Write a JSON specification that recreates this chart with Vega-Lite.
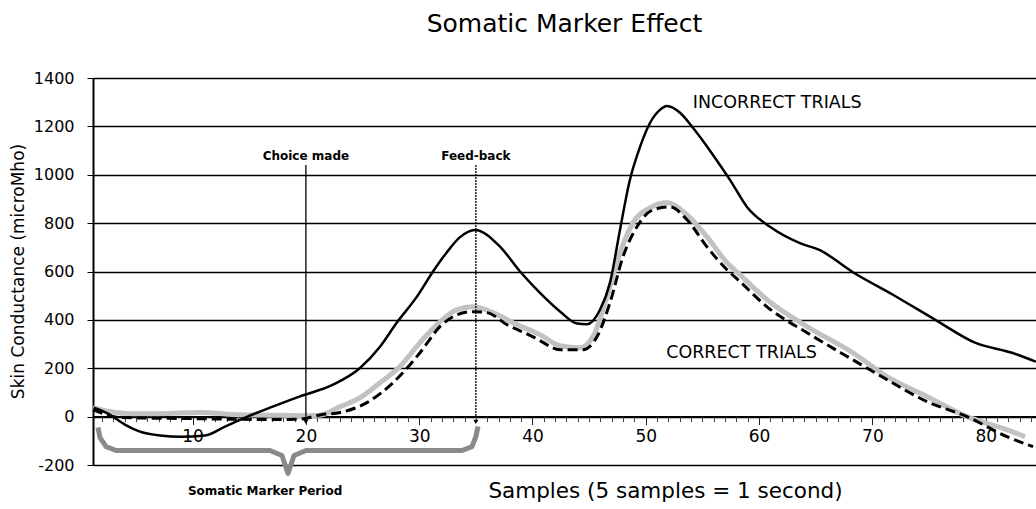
{
  "$schema": "https://vega.github.io/schema/vega-lite/v6.json",
  "width": 943,
  "height": 387,
  "autosize": {"type": "none"},
  "padding": {"left": 93, "top": 78, "right": 0, "bottom": 44},
  "background": "white",
  "title": {"text": "Somatic Marker Effect", "font": "DejaVu Sans", "fontSize": 25, "fontWeight": "normal", "anchor": "middle", "frame": "group", "offset": 33, "color": "black"},
  "config": {
    "view": {"stroke": null},
    "font": "DejaVu Sans",
    "axis": {"labelFont": "DejaVu Sans", "titleFont": "DejaVu Sans", "labelColor": "black", "titleColor": "black", "titleFontWeight": "normal"}
  },
  "resolve": {"axis": {"x": "independent"}},
  "datasets": {
    "incorrect": [
      {"sample": 1.3, "value": 37}, {"sample": 2.53, "value": 12}, {"sample": 4.03, "value": -33},
      {"sample": 5.36, "value": -62}, {"sample": 7.12, "value": -78}, {"sample": 8.98, "value": -83},
      {"sample": 11.09, "value": -78}, {"sample": 12.86, "value": -41}, {"sample": 14.63, "value": -4},
      {"sample": 16.83, "value": 37}, {"sample": 19.48, "value": 84}, {"sample": 22.4, "value": 132},
      {"sample": 24.78, "value": 201}, {"sample": 26.54, "value": 289}, {"sample": 28.0, "value": 387},
      {"sample": 29.8, "value": 496}, {"sample": 31.22, "value": 600}, {"sample": 32.45, "value": 680},
      {"sample": 33.6, "value": 742}, {"sample": 34.92, "value": 772}, {"sample": 37.13, "value": 703},
      {"sample": 38.9, "value": 600}, {"sample": 40.66, "value": 512},
      {"sample": 42.43, "value": 435}, {"sample": 43.93, "value": 385}, {"sample": 44.81, "value": 382},
      {"sample": 45.96, "value": 442}, {"sample": 46.84, "value": 553}, {"sample": 47.72, "value": 772},
      {"sample": 48.6, "value": 979}, {"sample": 49.49, "value": 1115}, {"sample": 50.37, "value": 1214},
      {"sample": 51.25, "value": 1268}, {"sample": 51.87, "value": 1284}, {"sample": 53.02, "value": 1256},
      {"sample": 54.16, "value": 1194}, {"sample": 55.93, "value": 1082}, {"sample": 57.43, "value": 979},
      {"sample": 58.93, "value": 867}, {"sample": 60.96, "value": 785}, {"sample": 63.61, "value": 717},
      {"sample": 65.37, "value": 688}, {"sample": 68.28, "value": 597}, {"sample": 71.81, "value": 504},
      {"sample": 75.7, "value": 396}, {"sample": 79.05, "value": 306}, {"sample": 82.32, "value": 264},
      {"sample": 84.44, "value": 227}
    ],
    "correctGray": [
      {"sample": 1.21, "value": 37}, {"sample": 2.71, "value": 21}, {"sample": 4.47, "value": 12},
      {"sample": 7.12, "value": 12}, {"sample": 10.65, "value": 17}, {"sample": 14.18, "value": 8},
      {"sample": 16.83, "value": 6}, {"sample": 20.01, "value": 4}, {"sample": 21.24, "value": 6},
      {"sample": 23.01, "value": 41}, {"sample": 24.78, "value": 78}, {"sample": 26.54, "value": 140},
      {"sample": 28.3, "value": 207}, {"sample": 30.07, "value": 306}, {"sample": 31.83, "value": 392},
      {"sample": 33.34, "value": 442}, {"sample": 34.75, "value": 454}, {"sample": 36.51, "value": 430},
      {"sample": 38.27, "value": 388}, {"sample": 40.66, "value": 339}, {"sample": 42.43, "value": 293},
      {"sample": 44.19, "value": 285}, {"sample": 45.33, "value": 330}, {"sample": 46.57, "value": 496},
      {"sample": 47.72, "value": 677}, {"sample": 48.87, "value": 801}, {"sample": 50.37, "value": 863},
      {"sample": 51.87, "value": 884}, {"sample": 53.64, "value": 834}, {"sample": 55.4, "value": 743},
      {"sample": 57.17, "value": 636}, {"sample": 58.32, "value": 586}, {"sample": 60.7, "value": 483},
      {"sample": 64.23, "value": 372}, {"sample": 68.28, "value": 264}, {"sample": 71.29, "value": 165},
      {"sample": 74.82, "value": 83}, {"sample": 78.35, "value": 0}, {"sample": 81.88, "value": -54},
      {"sample": 83.47, "value": -83}
    ],
    "correctDashed": [
      {"sample": 1.21, "value": 29}, {"sample": 3.68, "value": -4}, {"sample": 9.6, "value": -8},
      {"sample": 16.92, "value": -12}, {"sample": 19.57, "value": -10}, {"sample": 21.33, "value": 8},
      {"sample": 23.01, "value": 17}, {"sample": 25.39, "value": 58}, {"sample": 27.69, "value": 140},
      {"sample": 30.07, "value": 264}, {"sample": 31.83, "value": 372}, {"sample": 33.34, "value": 421},
      {"sample": 34.75, "value": 434}, {"sample": 35.98, "value": 430}, {"sample": 37.75, "value": 380},
      {"sample": 40.05, "value": 330}, {"sample": 40.66, "value": 314}, {"sample": 42.43, "value": 277},
      {"sample": 44.44, "value": 277}, {"sample": 45.69, "value": 330}, {"sample": 46.84, "value": 471},
      {"sample": 47.99, "value": 661}, {"sample": 49.22, "value": 785}, {"sample": 50.64, "value": 855},
      {"sample": 52.13, "value": 867}, {"sample": 53.64, "value": 814}, {"sample": 55.4, "value": 702},
      {"sample": 57.17, "value": 607}, {"sample": 58.32, "value": 558}, {"sample": 60.7, "value": 454},
      {"sample": 64.23, "value": 347}, {"sample": 68.28, "value": 235}, {"sample": 71.29, "value": 153},
      {"sample": 74.82, "value": 62}, {"sample": 78.35, "value": 0}, {"sample": 81.88, "value": -83},
      {"sample": 84.18, "value": -124}
    ],
    "brace": [
      {"sample": 1.65, "value": -45}, {"sample": 1.83, "value": -87}, {"sample": 2.36, "value": -124},
      {"sample": 3.24, "value": -140}, {"sample": 16.83, "value": -140}, {"sample": 17.89, "value": -161},
      {"sample": 18.42, "value": -235}, {"sample": 18.95, "value": -161}, {"sample": 20.01, "value": -140},
      {"sample": 33.78, "value": -140}, {"sample": 34.66, "value": -124}, {"sample": 35.0, "value": -83},
      {"sample": 35.19, "value": -41}
    ],
    "events": [
      {"sample": 20, "top": 1040, "bottom": 0, "label": "Choice made", "labelY": 1078, "arrowY": -22, "dash": "solid"},
      {"sample": 35, "top": 1040, "bottom": 0, "label": "Feed-back", "labelY": 1078, "arrowY": -22, "dash": "dotted"}
    ],
    "seriesLabels": [
      {"sample": 61.6, "value": 1296, "text": "INCORRECT TRIALS"},
      {"sample": 58.45, "value": 264, "text": "CORRECT TRIALS"}
    ],
    "periodLabel": [
      {"sample": 16.4, "value": -309, "text": "Somatic Marker Period"}
    ]
  },
  "layer": [
    {
      "data": {"name": "correctGray"},
      "mark": {"type": "line", "color": "#c2c2c2", "strokeWidth": 5, "interpolate": "monotone"},
      "encoding": {
        "x": {
          "field": "sample", "type": "quantitative",
          "scale": {"domain": [1.21, 84.44], "nice": false, "zero": false},
          "axis": {
            "orient": "bottom",
            "offset": -48.4,
            "values": [10, 20, 30, 40, 50, 60, 70, 80],
            "labelExpr": "'' + datum.value",
            "labelOverlap": false,
            "labelFlush": false,
            "labelFontSize": 17,
            "labelPadding": 4,
            "ticks": true,
            "tickColor": "#222222",
            "tickSize": 8,
            "tickWidth": 1,
            "tickOpacity": 1,
            "domainColor": "black",
            "domainWidth": 2,
            "grid": false,
            "title": "Samples (5 samples = 1 second)",
            "titleFontSize": 21.5,
            "titleX": 572,
            "titleY": 81,
            "titleAlign": "center",
            "titleBaseline": "alphabetic"
          }
        },
        "y": {
          "field": "value", "type": "quantitative",
          "scale": {"domain": [-200, 1400], "nice": false, "zero": false},
          "axis": {
            "values": [-200, 0, 200, 400, 600, 800, 1000, 1200, 1400],
            "labelExpr": "'' + datum.value",
            "labelFontSize": 16,
            "labelPadding": 13,
            "tickColor": "black",
            "tickSize": 6,
            "tickWidth": 1,
            "domainColor": "black",
            "domainWidth": 2,
            "grid": true,
            "gridColor": "black",
            "gridWidth": 1.3,
            "gridOpacity": 1,
            "title": "Skin Conductance (microMho)",
            "titleFontSize": 17,
            "titleX": -75,
            "titleY": 193,
            "titleAngle": -90,
            "titleAlign": "center",
            "titleBaseline": "middle"
          }
        }
      }
    },
    {
      "data": {"name": "correctDashed"},
      "mark": {"type": "line", "color": "black", "strokeWidth": 3, "strokeDash": [10, 5], "interpolate": "monotone"},
      "encoding": {
        "x": {
          "field": "sample", "type": "quantitative",
          "axis": {
            "orient": "bottom",
            "offset": -48.4,
            "values": [2,3,4,5,6,7,8,9,11,12,13,14,15,16,17,18,19,21,22,23,24,25,26,27,28,29,31,32,33,34,35,36,37,38,39,41,42,43,44,45,46,47,48,49,51,52,53,54,55,56,57,58,59,61,62,63,64,65,66,67,68,69,71,72,73,74,75,76,77,78,79,81,82,83,84],
            "labels": false,
            "domain": false,
            "grid": false,
            "ticks": true,
            "tickColor": "#444444",
            "tickSize": 5,
            "tickWidth": 1,
            "tickOpacity": 1,
            "title": null
          }
        },
        "y": {"field": "value", "type": "quantitative"}
      }
    },
    {
      "data": {"name": "incorrect"},
      "mark": {"type": "line", "color": "black", "strokeWidth": 2.5, "interpolate": "monotone"},
      "encoding": {
        "x": {"field": "sample", "type": "quantitative", "axis": null},
        "y": {"field": "value", "type": "quantitative"}
      }
    },
    {
      "data": {"name": "brace"},
      "mark": {"type": "line", "color": "#8a8a8a", "strokeWidth": 5, "interpolate": "linear", "strokeJoin": "round"},
      "encoding": {
        "x": {"field": "sample", "type": "quantitative", "axis": null},
        "y": {"field": "value", "type": "quantitative"}
      }
    },
    {
      "data": {"name": "events"},
      "mark": {"type": "rule", "color": "black", "strokeWidth": 1.3},
      "encoding": {
        "x": {"field": "sample", "type": "quantitative", "axis": null},
        "y": {"field": "top", "type": "quantitative"},
        "y2": {"field": "bottom"},
        "strokeDash": {"field": "dash", "type": "nominal", "scale": {"domain": ["solid", "dotted"], "range": [[1, 0], [2, 1]]}, "legend": null}
      }
    },
    {
      "data": {"name": "events"},
      "mark": {"type": "point", "shape": "triangle-down", "filled": true, "color": "black", "size": 25, "opacity": 1},
      "encoding": {
        "x": {"field": "sample", "type": "quantitative", "axis": null},
        "y": {"field": "arrowY", "type": "quantitative"}
      }
    },
    {
      "data": {"name": "events"},
      "mark": {"type": "text", "font": "DejaVu Sans", "fontWeight": "bold", "fontSize": 12, "color": "black", "align": "center", "baseline": "middle"},
      "encoding": {
        "x": {"field": "sample", "type": "quantitative", "axis": null},
        "y": {"field": "labelY", "type": "quantitative"},
        "text": {"field": "label"}
      }
    },
    {
      "data": {"name": "seriesLabels"},
      "mark": {"type": "text", "font": "DejaVu Sans", "fontSize": 17.5, "color": "black", "align": "center", "baseline": "middle"},
      "encoding": {
        "x": {"field": "sample", "type": "quantitative", "axis": null},
        "y": {"field": "value", "type": "quantitative"},
        "text": {"field": "text"}
      }
    },
    {
      "data": {"name": "periodLabel"},
      "mark": {"type": "text", "font": "DejaVu Sans", "fontWeight": "bold", "fontSize": 12, "color": "black", "align": "center", "baseline": "middle"},
      "encoding": {
        "x": {"field": "sample", "type": "quantitative", "axis": null},
        "y": {"field": "value", "type": "quantitative"},
        "text": {"field": "text"}
      }
    }
  ]
}
